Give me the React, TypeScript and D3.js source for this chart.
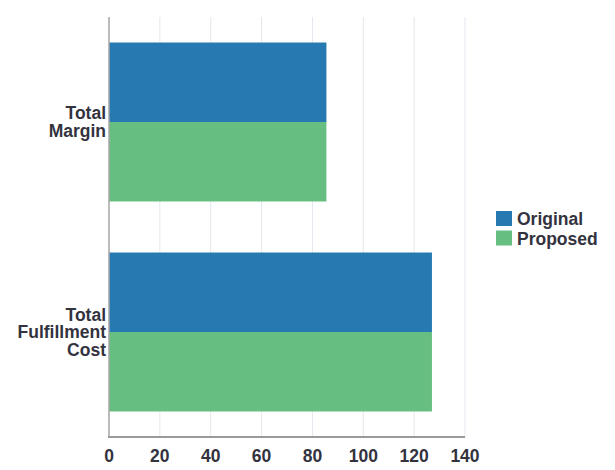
import React from "react";
import * as d3 from "d3";

const categories = ["Total Margin", "Total Fulfillment Cost"];
const categoryLines = [["Total", "Margin"], ["Total", "Fulfillment", "Cost"]];
const seriesNames = ["Original", "Proposed"];
const originalValues = [85.5, 127];
const proposedValues = [85.5, 127];
const xTicks = [0, 20, 40, 60, 80, 100, 120, 140];

const colors = ["#2679b1", "#66bf80"];
const W = 615, H = 470;
const M = { left: 109, right: 150, top: 17, bottom: 33 };
const FONT = "'Liberation Sans', Arial, sans-serif";
const FS = 17.5;

export default function App() {
  const x = d3.scaleLinear().domain([0, 140]).range([M.left, W - M.right]);
  const y = d3.scaleBand<string>().domain(categories).range([M.top, H - M.bottom]).paddingInner(0.243).paddingOuter(0.1215);
  const ys = d3.scaleBand<string>().domain(seriesNames).range([0, y.bandwidth()]);
  const values = [originalValues, proposedValues];

  return (
    <svg width={W} height={H} style={{ position: "absolute", left: 0, top: 0, background: "#fff" }}>
      {xTicks.map((t) => (
        <line key={"g" + t} x1={x(t)} x2={x(t)} y1={M.top} y2={H - M.bottom} stroke="#e3e7ee" strokeWidth={1} />
      ))}
      {categories.map((c, ci) =>
        seriesNames.map((s, si) => (
          <rect key={c + s} x={x(0)} y={(y(c) as number) + (ys(s) as number)} width={x(values[si][ci]) - x(0)} height={ys.bandwidth()} fill={colors[si]} />
        ))
      )}
      <line x1={x(0)} x2={x(0)} y1={M.top} y2={H - M.bottom} stroke="#a8a8a8" strokeWidth={1.5} />
      <line x1={x(0) - 1} x2={x(140)} y1={H - M.bottom} y2={H - M.bottom} stroke="#9a9a9a" strokeWidth={2} />
      {xTicks.map((t) => (
        <text key={"t" + t} x={x(t)} y={462} textAnchor="middle" fontFamily={FONT} fontWeight="bold" fontSize={FS} fill="#333340">{t}</text>
      ))}
      {categories.map((c, ci) => {
        const lines = categoryLines[ci];
        const cy = (y(c) as number) + y.bandwidth() / 2;
        const lh = 17.5;
        const start = cy - ((lines.length - 1) * lh) / 2;
        return (
          <text key={"c" + c} textAnchor="end" fontFamily={FONT} fontWeight="bold" fontSize={FS} fill="#333340">
            {lines.map((l, li) => (
              <tspan key={li} x={x(0) - 3} y={start + li * lh + 6}>{l}</tspan>
            ))}
          </text>
        );
      })}
      {seriesNames.map((s, si) => (
        <g key={"l" + s}>
          <rect x={496} y={211 + si * 19.5} width={16} height={15} fill={colors[si]} />
          <text x={517} y={225 + si * 19.5} fontFamily={FONT} fontWeight="bold" fontSize={FS} fill="#333340">{s}</text>
        </g>
      ))}
    </svg>
  );
}
